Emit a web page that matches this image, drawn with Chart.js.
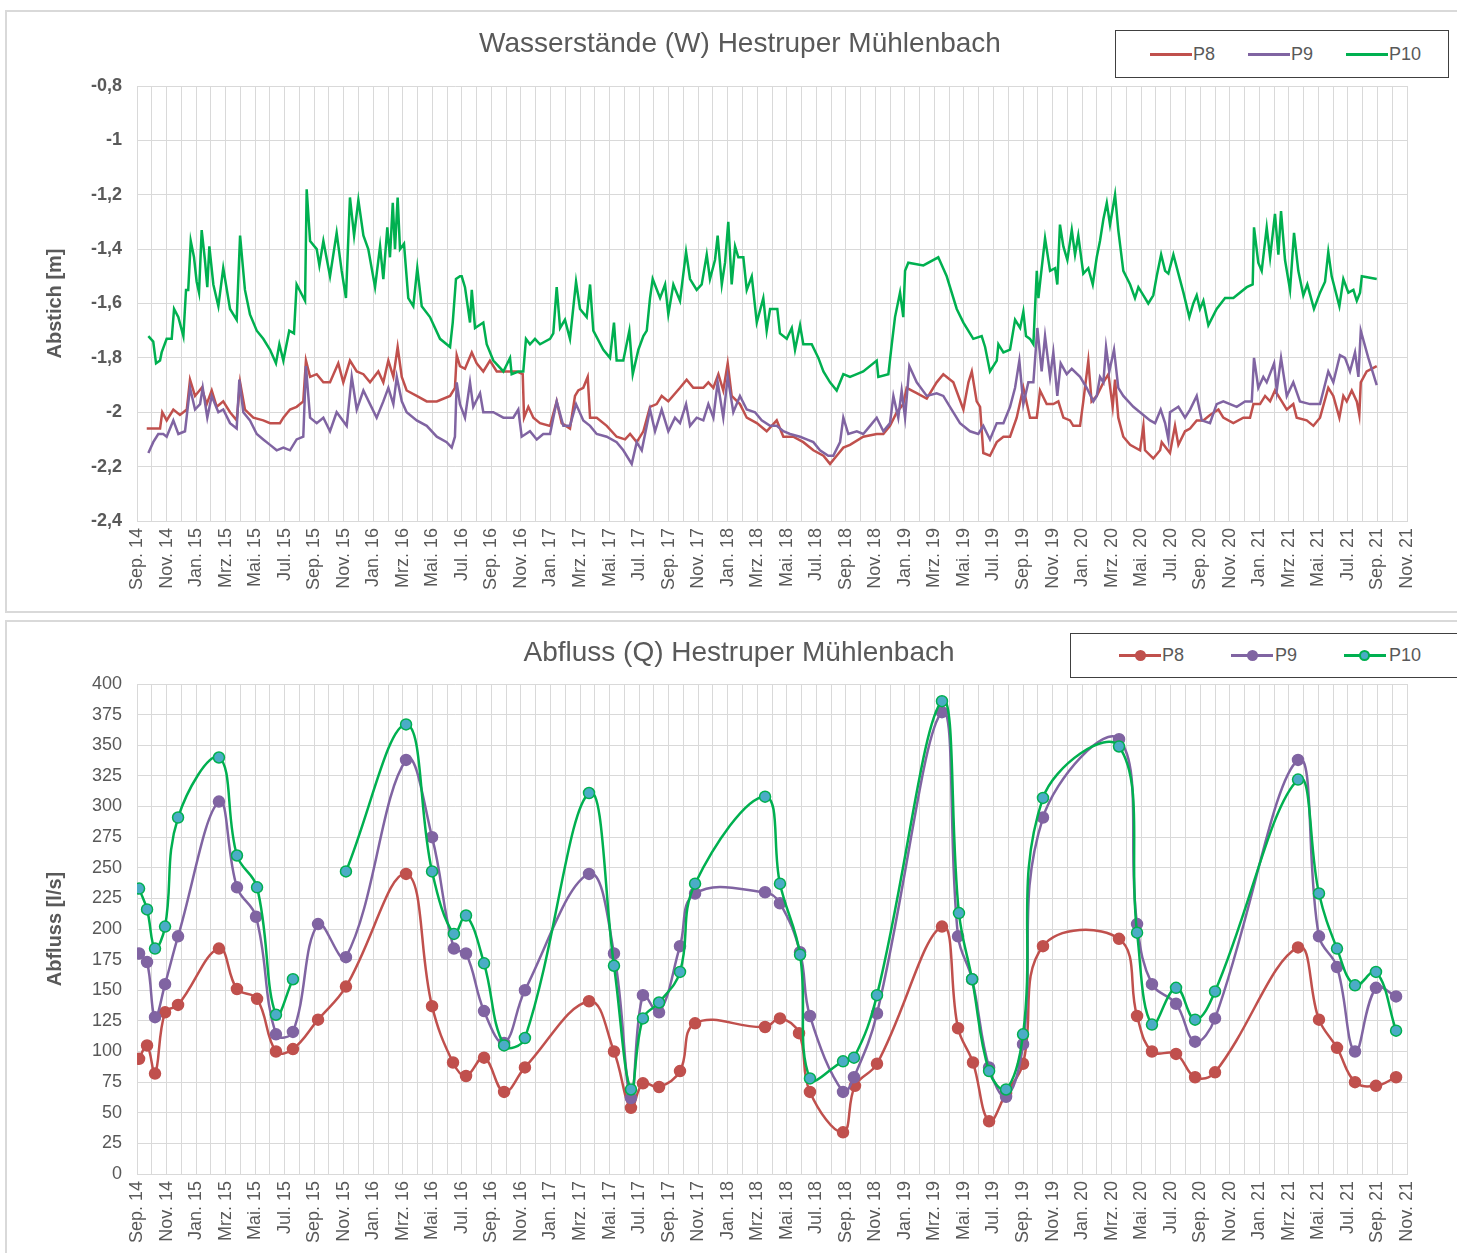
<!DOCTYPE html>
<html>
<head>
<meta charset="utf-8">
<script src="https://cdn.jsdelivr.net/npm/chart.js@4.4.1/dist/chart.umd.min.js"></script>
<style>
  body { margin: 0; background: #fff; font-family: "Liberation Sans", Arial, sans-serif; }
  .page { position: relative; width: 1457px; height: 1253px; overflow: hidden; }
  .panel { position: absolute; border: 2px solid #d9d9d9; box-sizing: border-box; }
  .title { position: absolute; color: #595959; font-size: 28px; white-space: nowrap; transform: translateX(-50%); }
  .legend { position: absolute; border: 1px solid #404040; box-sizing: border-box; background: #fff; }
  .item { position: absolute; font-size: 18px; color: #595959; line-height: 20px; }
  .swatch { position: absolute; height: 3px; }
  .dot { position: absolute; width: 11px; height: 11px; border-radius: 50%; box-sizing: border-box; }
  canvas { position: absolute; left: 0; }
</style>
</head>
<body>
<div class="page">
  <div class="panel" style="left:5px;top:10px;width:1470px;height:603px"></div>
  <div class="panel" style="left:5px;top:620px;width:1470px;height:650px"></div>

  <canvas id="chartW" width="1457" height="612" style="top:0"></canvas>
  <canvas id="chartQ" width="1457" height="633" style="top:620px"></canvas>

  <div class="title" style="left:740px;top:27px">Wasserstände (W) Hestruper Mühlenbach</div>
  <div class="title" style="left:739px;top:636px">Abfluss (Q) Hestruper Mühlenbach</div>

  <div class="legend" style="left:1115px;top:30px;width:334px;height:48px">
    <div class="swatch" style="left:34px;top:22px;width:42px;background:#c0504d"></div>
    <div class="item" style="left:77px;top:13px">P8</div>
    <div class="swatch" style="left:132px;top:22px;width:42px;background:#8064a2"></div>
    <div class="item" style="left:175px;top:13px">P9</div>
    <div class="swatch" style="left:230px;top:22px;width:42px;background:#00b050"></div>
    <div class="item" style="left:273px;top:13px">P10</div>
  </div>
  <div class="legend" style="left:1070px;top:633px;width:400px;height:45px">
    <div class="swatch" style="left:48px;top:20px;width:42px;background:#c0504d"></div>
    <div class="dot" style="left:64px;top:16px;background:#c0504d"></div>
    <div class="item" style="left:91px;top:11px">P8</div>
    <div class="swatch" style="left:160px;top:20px;width:42px;background:#8064a2"></div>
    <div class="dot" style="left:176px;top:16px;background:#8064a2"></div>
    <div class="item" style="left:204px;top:11px">P9</div>
    <div class="swatch" style="left:273px;top:20px;width:42px;background:#00b050"></div>
    <div class="dot" style="left:288px;top:16px;background:#4bacc6;border:2px solid #00b050"></div>
    <div class="item" style="left:318px;top:11px">P10</div>
  </div>
</div>

<script>
// x values are months counted from Sep. 14 (0 = Sep. 14, 86 = Nov. 21)
const monthNames = ['Jan.', 'Feb.', 'Mrz.', 'Apr.', 'Mai.', 'Jun.', 'Jul.', 'Aug.', 'Sep.', 'Okt.', 'Nov.', 'Dez.'];
const startMonth = 8;   // Sep.
const startYear = 14;
const monthCount = 86;

// Wasserstände (Abstich [m])
const wP8 = [[0.66,-2.06],[1.56,-2.06],[1.71,-2.00],[2.01,-2.03],[2.46,-1.99],[2.91,-2.01],[3.37,-1.99],[3.59,-1.88],[3.93,-1.94],[4.38,-1.91],[4.72,-1.97],[5.06,-1.92],[5.40,-1.98],[5.84,-1.96],[6.30,-2.00],[6.75,-2.03],[6.98,-1.89],[7.31,-1.99],[7.88,-2.02],[8.55,-2.03],[9.01,-2.04],[9.68,-2.04],[9.91,-2.02],[10.36,-1.99],[10.81,-1.98],[11.26,-1.96],[11.44,-1.81],[11.72,-1.87],[12.17,-1.86],[12.62,-1.89],[13.07,-1.89],[13.63,-1.82],[13.97,-1.89],[14.42,-1.81],[14.88,-1.85],[15.33,-1.86],[15.78,-1.89],[16.34,-1.85],[16.68,-1.89],[17.02,-1.81],[17.36,-1.87],[17.65,-1.76],[17.93,-1.87],[18.26,-1.92],[18.94,-1.94],[19.62,-1.96],[20.30,-1.96],[21.20,-1.94],[21.53,-1.91],[21.65,-1.79],[21.87,-1.83],[22.21,-1.84],[22.67,-1.78],[23.00,-1.82],[23.45,-1.85],[23.90,-1.81],[24.36,-1.85],[24.81,-1.85],[25.71,-1.85],[26.12,-1.86],[26.21,-2.02],[26.50,-1.98],[26.84,-2.02],[27.29,-2.04],[27.97,-2.05],[28.42,-1.96],[28.76,-2.04],[29.32,-2.06],[29.66,-1.94],[29.88,-1.92],[30.22,-1.91],[30.52,-1.87],[30.68,-2.02],[31.13,-2.02],[31.81,-2.05],[32.48,-2.09],[33.05,-2.10],[33.39,-2.08],[33.84,-2.11],[34.29,-2.07],[34.74,-1.98],[35.19,-1.97],[35.53,-1.94],[35.98,-1.96],[36.77,-1.91],[37.22,-1.88],[37.67,-1.91],[38.35,-1.91],[38.69,-1.89],[39.03,-1.91],[39.37,-1.86],[39.70,-1.92],[40.00,-1.82],[40.27,-1.94],[40.83,-1.97],[41.29,-2.02],[41.97,-2.04],[42.64,-2.07],[43.32,-2.03],[43.77,-2.09],[44.44,-2.09],[45.12,-2.11],[45.80,-2.14],[46.48,-2.16],[46.93,-2.19],[47.38,-2.16],[47.83,-2.13],[48.28,-2.12],[49.18,-2.09],[50.09,-2.08],[50.54,-2.08],[50.99,-2.05],[51.45,-2.00],[51.89,-1.97],[52.12,-1.91],[52.80,-1.93],[53.48,-1.95],[54.15,-1.89],[54.60,-1.86],[55.28,-1.89],[55.96,-1.99],[56.30,-1.89],[56.53,-1.85],[56.86,-1.96],[57.09,-1.98],[57.31,-2.15],[57.76,-2.16],[58.22,-2.11],[58.67,-2.09],[59.12,-2.09],[59.57,-2.02],[60.02,-1.91],[60.47,-2.02],[60.93,-2.02],[61.15,-1.92],[61.60,-1.97],[62.05,-1.97],[62.39,-1.96],[62.73,-2.02],[63.18,-2.03],[63.40,-2.05],[63.86,-2.05],[64.08,-1.96],[64.42,-1.81],[64.64,-1.96],[64.99,-1.94],[65.44,-1.89],[65.78,-1.86],[66.07,-1.98],[66.23,-1.88],[66.45,-2.02],[66.79,-2.09],[67.25,-2.12],[67.92,-2.14],[68.15,-2.05],[68.26,-2.14],[68.82,-2.17],[69.28,-2.14],[69.39,-2.11],[69.95,-2.15],[70.29,-2.05],[70.52,-2.12],[70.97,-2.07],[71.31,-2.06],[71.76,-2.03],[72.21,-2.03],[72.66,-2.01],[73.23,-1.99],[73.56,-2.02],[74.24,-2.04],[74.92,-2.02],[75.37,-2.02],[75.60,-1.97],[76.05,-1.97],[76.39,-1.94],[76.73,-1.96],[77.06,-1.92],[77.52,-1.96],[77.86,-1.99],[78.30,-1.97],[78.53,-2.02],[79.21,-2.03],[79.66,-2.05],[80.11,-2.02],[80.67,-1.91],[81.01,-1.94],[81.42,-2.02],[81.69,-1.94],[81.92,-1.96],[82.26,-1.92],[82.60,-1.96],[82.77,-2.01],[82.87,-1.89],[83.27,-1.85],[83.95,-1.83]];

const wP9 = [[0.77,-2.15],[1.10,-2.11],[1.44,-2.08],[1.78,-2.08],[2.01,-2.09],[2.46,-2.03],[2.80,-2.08],[3.25,-2.07],[3.59,-1.91],[3.93,-1.99],[4.27,-1.97],[4.45,-1.91],[4.76,-2.02],[5.06,-1.94],[5.51,-2.00],[5.84,-1.99],[6.30,-2.04],[6.75,-2.06],[6.93,-1.88],[7.20,-2.00],[7.65,-2.03],[8.11,-2.08],[8.55,-2.10],[9.01,-2.12],[9.46,-2.14],[9.91,-2.13],[10.36,-2.14],[10.81,-2.10],[11.26,-2.09],[11.44,-1.83],[11.72,-2.02],[12.17,-2.04],[12.62,-2.02],[13.07,-2.07],[13.52,-2.00],[14.20,-2.05],[14.54,-1.87],[14.88,-1.99],[15.33,-1.92],[15.78,-1.97],[16.23,-2.02],[16.68,-1.96],[17.02,-1.91],[17.36,-1.97],[17.59,-1.87],[17.93,-1.96],[18.26,-2.00],[18.94,-2.03],[19.62,-2.05],[20.30,-2.09],[20.97,-2.11],[21.31,-2.13],[21.53,-2.09],[21.65,-1.89],[21.87,-1.97],[22.21,-2.02],[22.55,-1.89],[22.77,-1.98],[23.23,-1.93],[23.45,-2.00],[24.13,-2.00],[24.81,-2.02],[25.48,-2.02],[25.82,-1.99],[26.05,-2.09],[26.61,-2.07],[27.07,-2.10],[27.51,-2.08],[27.97,-2.08],[28.42,-1.96],[28.87,-2.05],[29.32,-2.05],[29.73,-1.97],[30.22,-2.03],[30.68,-2.05],[31.13,-2.08],[31.81,-2.09],[32.48,-2.11],[32.93,-2.14],[33.50,-2.19],[33.84,-2.11],[34.18,-2.14],[34.52,-2.05],[34.74,-1.99],[35.08,-2.07],[35.53,-1.99],[35.98,-2.07],[36.43,-2.02],[36.77,-2.04],[37.18,-1.97],[37.45,-2.05],[37.90,-2.02],[38.35,-2.03],[38.69,-1.97],[39.03,-2.02],[39.32,-1.89],[39.70,-2.02],[40.00,-1.87],[40.38,-2.00],[40.83,-1.94],[41.29,-1.99],[41.85,-2.00],[42.30,-2.03],[42.87,-2.05],[43.32,-2.05],[43.77,-2.07],[44.22,-2.08],[44.90,-2.09],[45.35,-2.10],[45.80,-2.11],[46.25,-2.14],[46.81,-2.16],[47.15,-2.16],[47.61,-2.11],[47.83,-2.02],[48.17,-2.08],[48.74,-2.07],[49.18,-2.08],[49.64,-2.05],[50.09,-2.02],[50.54,-2.07],[50.99,-2.04],[51.22,-1.94],[51.55,-2.02],[51.78,-1.92],[52.01,-2.02],[52.30,-1.83],[52.80,-1.89],[53.48,-1.94],[54.15,-1.93],[54.60,-1.94],[55.05,-1.98],[55.73,-2.04],[56.41,-2.07],[56.97,-2.08],[57.31,-2.05],[57.76,-2.10],[58.22,-2.04],[58.67,-2.04],[59.12,-1.98],[59.46,-1.91],[59.75,-1.81],[60.02,-1.97],[60.36,-1.89],[60.70,-1.89],[60.97,-1.69],[61.26,-1.85],[61.49,-1.72],[61.83,-1.87],[62.05,-1.78],[62.32,-1.94],[62.55,-1.82],[62.96,-1.86],[63.30,-1.84],[63.86,-1.87],[64.31,-1.91],[64.76,-1.96],[64.99,-1.94],[65.21,-1.87],[65.44,-1.89],[65.62,-1.76],[65.84,-1.85],[66.16,-1.77],[66.45,-1.91],[66.79,-1.94],[67.47,-1.98],[67.92,-2.00],[68.60,-2.03],[68.94,-2.04],[69.32,-1.99],[69.62,-2.04],[69.84,-2.10],[69.95,-2.00],[70.52,-1.98],[70.97,-2.02],[71.31,-1.99],[71.76,-1.94],[72.10,-2.03],[72.66,-2.04],[73.11,-1.97],[73.56,-1.96],[74.47,-1.98],[75.03,-1.96],[75.49,-1.96],[75.64,-1.80],[75.93,-1.91],[76.27,-1.87],[76.50,-1.89],[77.00,-1.82],[77.18,-1.92],[77.47,-1.80],[77.86,-1.94],[78.30,-1.89],[78.75,-1.96],[79.43,-1.97],[80.11,-1.97],[80.67,-1.85],[81.01,-1.89],[81.46,-1.79],[81.80,-1.80],[82.14,-1.85],[82.48,-1.78],[82.71,-1.87],[82.87,-1.70],[83.38,-1.80],[83.95,-1.90]];

const wP10 = [[0.77,-1.72],[1.10,-1.74],[1.29,-1.82],[1.56,-1.81],[1.67,-1.78],[2.01,-1.73],[2.35,-1.73],[2.51,-1.62],[2.80,-1.65],[3.14,-1.72],[3.32,-1.55],[3.47,-1.55],[3.64,-1.37],[3.86,-1.43],[4.04,-1.52],[4.20,-1.56],[4.38,-1.33],[4.60,-1.44],[4.76,-1.54],[4.90,-1.39],[5.17,-1.53],[5.51,-1.61],[5.84,-1.47],[6.30,-1.62],[6.75,-1.66],[6.98,-1.35],[7.31,-1.55],[7.65,-1.64],[8.11,-1.70],[8.55,-1.73],[9.01,-1.77],[9.41,-1.82],[9.64,-1.75],[9.91,-1.81],[10.31,-1.70],[10.63,-1.71],[10.81,-1.53],[11.38,-1.59],[11.49,-1.18],[11.72,-1.37],[12.17,-1.40],[12.35,-1.46],[12.62,-1.37],[13.07,-1.50],[13.52,-1.34],[13.86,-1.48],[14.15,-1.58],[14.42,-1.21],[14.70,-1.35],[14.99,-1.22],[15.33,-1.35],[15.66,-1.40],[16.12,-1.54],[16.46,-1.39],[16.68,-1.51],[16.95,-1.32],[17.13,-1.43],[17.32,-1.23],[17.47,-1.40],[17.65,-1.21],[17.81,-1.40],[18.08,-1.38],[18.37,-1.58],[18.71,-1.61],[18.98,-1.47],[19.28,-1.61],[19.84,-1.65],[20.52,-1.73],[21.20,-1.76],[21.38,-1.67],[21.60,-1.51],[21.87,-1.50],[21.99,-1.50],[22.21,-1.54],[22.55,-1.67],[22.67,-1.55],[22.89,-1.69],[23.45,-1.67],[23.68,-1.75],[24.13,-1.81],[24.81,-1.85],[25.26,-1.80],[25.37,-1.86],[25.82,-1.85],[26.16,-1.85],[26.34,-1.73],[26.61,-1.75],[26.95,-1.73],[27.29,-1.75],[27.97,-1.73],[28.19,-1.71],[28.42,-1.54],[28.65,-1.69],[28.98,-1.66],[29.32,-1.73],[29.73,-1.52],[30.00,-1.62],[30.45,-1.65],[30.68,-1.53],[30.90,-1.70],[31.58,-1.77],[32.03,-1.80],[32.30,-1.67],[32.48,-1.81],[32.93,-1.81],[33.34,-1.70],[33.57,-1.86],[33.95,-1.77],[34.29,-1.72],[34.52,-1.70],[34.74,-1.58],[34.92,-1.51],[35.42,-1.58],[35.76,-1.53],[35.98,-1.64],[36.32,-1.53],[36.77,-1.59],[37.18,-1.41],[37.45,-1.51],[37.90,-1.55],[38.24,-1.53],[38.58,-1.42],[38.80,-1.51],[39.14,-1.44],[39.32,-1.35],[39.60,-1.53],[39.82,-1.45],[40.04,-1.30],[40.27,-1.53],[40.50,-1.39],[40.72,-1.43],[41.06,-1.43],[41.29,-1.55],[41.63,-1.50],[41.97,-1.67],[42.41,-1.58],[42.64,-1.70],[42.87,-1.62],[43.36,-1.62],[43.54,-1.71],[44.00,-1.73],[44.34,-1.69],[44.56,-1.77],[44.90,-1.68],[45.12,-1.75],[45.69,-1.75],[46.14,-1.80],[46.48,-1.85],[46.93,-1.89],[47.38,-1.92],[47.83,-1.86],[48.28,-1.87],[48.74,-1.86],[49.18,-1.85],[50.09,-1.81],[50.20,-1.87],[50.88,-1.86],[51.11,-1.75],[51.33,-1.65],[51.67,-1.56],[51.89,-1.65],[52.01,-1.48],[52.23,-1.45],[53.25,-1.46],[54.26,-1.43],[54.83,-1.50],[55.51,-1.62],[55.96,-1.67],[56.63,-1.73],[57.20,-1.72],[57.43,-1.76],[57.76,-1.85],[58.22,-1.81],[58.33,-1.75],[58.67,-1.78],[59.12,-1.77],[59.46,-1.66],[59.80,-1.69],[60.02,-1.63],[60.20,-1.72],[60.47,-1.73],[60.70,-1.75],[60.93,-1.48],[61.04,-1.58],[61.20,-1.50],[61.49,-1.36],[61.83,-1.48],[62.17,-1.47],[62.32,-1.53],[62.50,-1.31],[62.73,-1.39],[63.00,-1.44],[63.30,-1.33],[63.52,-1.42],[63.74,-1.35],[64.08,-1.49],[64.42,-1.47],[64.72,-1.53],[64.99,-1.43],[65.21,-1.37],[65.44,-1.29],[65.67,-1.23],[65.89,-1.31],[66.23,-1.20],[66.45,-1.33],[66.79,-1.48],[67.25,-1.53],[67.58,-1.58],[67.81,-1.54],[68.15,-1.57],[68.48,-1.60],[68.82,-1.57],[69.05,-1.50],[69.35,-1.42],[69.62,-1.48],[69.84,-1.49],[70.18,-1.42],[70.52,-1.49],[70.86,-1.56],[71.26,-1.65],[71.53,-1.60],[71.76,-1.57],[71.98,-1.62],[72.21,-1.59],[72.55,-1.68],[73.11,-1.62],[73.68,-1.58],[74.24,-1.58],[75.15,-1.54],[75.55,-1.53],[75.64,-1.32],[75.93,-1.45],[76.16,-1.48],[76.50,-1.32],[76.73,-1.43],[77.06,-1.27],[77.29,-1.42],[77.47,-1.26],[77.74,-1.44],[78.08,-1.55],[78.35,-1.34],[78.64,-1.48],[78.98,-1.57],[79.25,-1.53],[79.70,-1.62],[80.11,-1.56],[80.45,-1.52],[80.67,-1.41],[80.90,-1.50],[81.42,-1.61],[81.69,-1.51],[82.03,-1.56],[82.37,-1.55],[82.60,-1.59],[82.82,-1.56],[82.94,-1.50],[83.95,-1.51]];

// Abfluss (Q [l/s]), measured points
const qP8 = [[0.14,94],[0.68,105],[1.22,82],[1.9,132],[2.78,138],[5.55,184],[6.77,151],[8.13,143],[9.41,100],[10.56,102],[12.26,126],[14.15,153],[18.22,245],[19.98,137],[21.4,91],[22.28,80],[23.5,95],[24.86,67],[26.27,87],[30.61,141],[32.3,100],[33.45,54],[34.26,74],[35.35,71],[36.77,84],[37.79,123],[42.53,120],[43.54,127],[44.83,115],[45.57,67],[47.81,34],[48.62,72],[50.11,90],[54.51,202],[55.6,119],[56.61,91],[57.7,43],[58.85,66],[60.0,90],[61.35,186],[66.5,192],[67.72,129],[68.73,100],[70.36,98],[71.65,79],[73.0,83],[78.62,185],[80.04,126],[81.26,103],[82.48,75],[83.9,72],[85.26,79]];
const qP9 = [[0.14,180],[0.68,173],[1.22,128],[1.9,155],[2.78,194],[5.55,304],[6.77,234],[8.06,210],[9.41,114],[10.56,116],[12.26,204],[14.15,177],[18.22,338],[19.98,275],[21.46,184],[22.28,180],[23.5,133],[24.86,107],[26.27,150],[30.61,245],[32.3,180],[33.45,62],[34.26,146],[35.35,132],[36.77,186],[37.79,229],[42.53,230],[43.54,221],[44.9,181],[45.57,129],[47.81,67],[48.55,79],[50.11,131],[54.51,377],[55.6,194],[56.55,159],[57.7,87],[58.85,63],[60.0,106],[61.35,291],[66.5,355],[67.72,204],[68.73,155],[70.36,139],[71.65,108],[73.0,127],[78.62,338],[80.04,194],[81.26,169],[82.48,100],[83.9,152],[85.26,145]];
const qP10 = [[0.14,233],[0.68,216],[1.22,184],[1.9,202],[2.78,291],[5.55,340],[6.77,260],[8.13,234],[9.41,130],[10.56,159],[12.3,null],[14.15,247],[18.22,367],[19.98,247],[21.46,196],[22.28,211],[23.5,172],[24.86,105],[26.27,111],[30.61,311],[32.3,170],[33.45,69],[34.26,127],[35.35,140],[36.77,165],[37.79,237],[42.53,308],[43.54,237],[44.9,179],[45.57,78],[47.81,92],[48.55,95],[50.11,146],[54.51,386],[55.66,213],[56.55,159],[57.7,84],[58.85,69],[60.0,114],[61.35,307],[66.5,349],[67.72,197],[68.73,122],[70.36,152],[71.65,126],[73.0,149],[78.62,322],[80.04,229],[81.26,184],[82.48,154],[83.9,165],[85.26,117]];

const RED = '#c0504d', PURPLE = '#8064a2', GREEN = '#00b050', TEAL = '#4bacc6';
const GRID = '#d9d9d9', TEXT = '#595959';
const FONT = '"Liberation Sans", Arial, sans-serif';

const toXY = arr => arr.map(p => ({ x: p[0], y: p[1] }));

function monthLabel(i) {
    const m = startMonth + i;
    return monthNames[m % 12] + ' ' + (startYear + Math.floor(m / 12));
}

function xAxis(height) {
    return {
        type: 'linear',
        min: 0,
        max: monthCount,
        grid: { color: GRID, lineWidth: 1, drawTicks: false },
        border: { color: GRID },
        ticks: {
            stepSize: 1,
            autoSkip: false,
            maxRotation: 90,
            minRotation: 90,
            padding: 7,
            color: TEXT,
            font: { family: FONT, size: 18 },
            callback: v => (Number.isInteger(v) && v % 2 === 0) ? monthLabel(v) : ''
        },
        afterFit: s => { s.height = height; s.paddingLeft = 0; s.paddingRight = 0; }
    };
}

function yAxis(opts) {
    return {
        min: opts.min,
        max: opts.max,
        grid: { color: GRID, lineWidth: 1, drawTicks: false },
        border: { color: GRID },
        ticks: {
            stepSize: opts.step,
            padding: 15,
            color: TEXT,
            font: { family: FONT, size: 18, weight: opts.bold ? 'bold' : 'normal' },
            callback: v => String(Math.round(v * 10) / 10).replace('.', ',')
        },
        title: {
            display: true,
            text: opts.title,
            color: TEXT,
            font: { family: FONT, size: 20, weight: 'bold' },
            padding: { top: 43, bottom: 0 }
        },
        afterFit: s => { s.width = 137; s.paddingTop = 0; s.paddingBottom = 0; }
    };
}

//water levels
new Chart(document.getElementById('chartW').getContext('2d'), {
    type: 'line',
    data: {
        datasets: [
            { label: 'P8', data: toXY(wP8), borderColor: RED, borderWidth: 2.5, pointRadius: 0, order: 3 },
            { label: 'P9', data: toXY(wP9), borderColor: PURPLE, borderWidth: 2.5, pointRadius: 0, order: 2 },
            { label: 'P10', data: toXY(wP10), borderColor: GREEN, borderWidth: 2.5, pointRadius: 0, order: 1 }
        ]
    },
    options: {
        responsive: false,
        animation: false,
        layout: { padding: { top: 86, right: 50, left: 0, bottom: 0 } },
        plugins: { legend: { display: false }, tooltip: { enabled: false } },
        scales: {
            x: xAxis(91),
            y: yAxis({ min: -2.4, max: -0.8, step: 0.2, bold: true, title: 'Abstich [m]' })
        }
    }
});

//discharge
const qStyle = (color, fill) => ({
    borderColor: color,
    borderWidth: 2.5,
    pointRadius: 5.5,
    pointBackgroundColor: fill,
    pointBorderColor: color,
    pointBorderWidth: 1.5,
    tension: 0.4,
    spanGaps: false
});

new Chart(document.getElementById('chartQ').getContext('2d'), {
    type: 'line',
    data: {
        datasets: [
            Object.assign({ label: 'P8', data: toXY(qP8), order: 3 }, qStyle(RED, RED)),
            Object.assign({ label: 'P9', data: toXY(qP9), order: 2 }, qStyle(PURPLE, PURPLE)),
            Object.assign({ label: 'P10', data: toXY(qP10), order: 1 }, qStyle(GREEN, TEAL))
        ]
    },
    options: {
        responsive: false,
        animation: false,
        layout: { padding: { top: 64, right: 50, left: 0, bottom: 0 } },
        plugins: { legend: { display: false }, tooltip: { enabled: false } },
        scales: {
            x: xAxis(79),
            y: yAxis({ min: 0, max: 400, step: 25, bold: false, title: 'Abfluss [l/s]' })
        }
    }
});
</script>
</body>
</html>
